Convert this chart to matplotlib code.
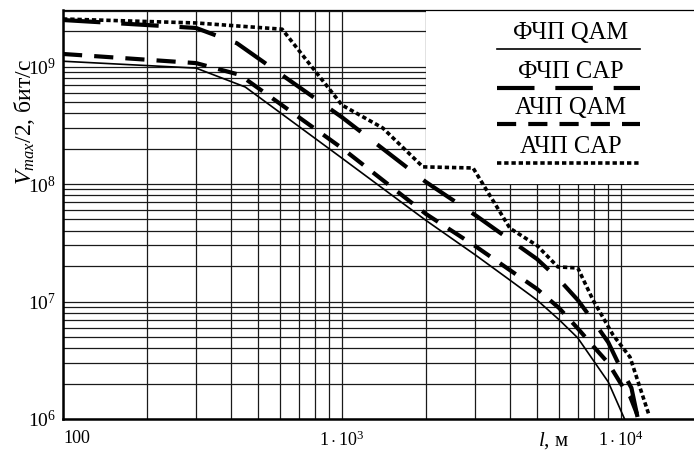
import matplotlib
matplotlib.use("Agg")
import matplotlib.pyplot as plt
from matplotlib.patches import Rectangle
from matplotlib.ticker import LogLocator, NullFormatter

# l, м  /  V_max/2, бит/с
fchp_qam_x = [100, 300, 450, 1000, 2000, 3000, 4000, 5000, 6000, 7000, 8000, 9000, 10300]
fchp_qam_y = [1.11e9, 9.7e8, 6.7e8, 1.66e8, 4.9e7, 2.5e7, 1.52e7, 1.03e7, 7.0e6, 4.9e6, 3.1e6, 2.07e6, 1.0e6]

fchp_cap_x = [100, 300, 420, 1000, 2000, 3000, 5000, 6000, 7000, 8000, 9000, 10000, 10900, 11500]
fchp_cap_y = [2.49e9, 2.13e9, 1.58e9, 3.7e8, 1.04e8, 5.45e7, 2.3e7, 1.54e7, 1.03e7, 6.7e6, 4.5e6, 2.67e6, 1.84e6, 1.0e6]

achp_qam_x = [100, 300, 430, 1000, 2000, 3000, 5000, 6000, 7000, 8000, 9000, 10000, 10800, 11600]
achp_qam_y = [1.28e9, 1.07e9, 8.5e8, 2.02e8, 5.56e7, 2.97e7, 1.28e7, 8.8e6, 5.9e6, 4.1e6, 3.0e6, 1.99e6, 1.54e6, 1.0e6]

achp_cap_x = [100, 300, 610, 1000, 1400, 1950, 2950, 4000, 5000, 5940, 7000, 7940, 9360, 10770, 12000, 12600]
achp_cap_y = [2.54e9, 2.35e9, 2.08e9, 4.7e8, 3.0e8, 1.40e8, 1.37e8, 4.2e7, 3.0e7, 1.97e7, 1.93e7, 1.03e7, 5.2e6, 3.37e6, 1.54e6, 1.08e6]

series_labels = ["ФЧП QAM", "ФЧП CAP", "АЧП QAM", "АЧП CAP"]
x_ticks = [100, 1000, 10000]
x_tick_labels = ["100", r"$1\cdot10^{3}$", r"$1\cdot10^{4}$"]
y_ticks = [1e6, 1e7, 1e8, 1e9]
y_tick_labels = [r"$10^{6}$", r"$10^{7}$", r"$10^{8}$", r"$10^{9}$"]

plt.rcParams["font.family"] = ["Liberation Serif", "DejaVu Serif"]
plt.rcParams["mathtext.fontset"] = "custom"
plt.rcParams["mathtext.rm"] = "Liberation Serif"
plt.rcParams["mathtext.it"] = "Liberation Serif:italic"

styles = [
    dict(color="black", linewidth=1.2, linestyle="-"),
    dict(color="black", linewidth=3.0, linestyle=(0, (9.0, 5.0))),
    dict(color="black", linewidth=3.0, linestyle=(0, (4.6, 2.9))),
    dict(color="black", linewidth=2.6, linestyle=(0, (1.2, 0.8))),
]

fig = plt.figure(figsize=(6.94, 4.5), dpi=100)
ax = fig.add_axes([63 / 694, 31 / 450, 631 / 694, 409 / 450])
ax.set_xscale("log")
ax.set_yscale("log")
ax.set_xlim(100, 18270)
ax.set_ylim(1e6, 3.03e9)

ax.set_axisbelow(True)
ax.xaxis.set_minor_locator(LogLocator(base=10, subs=range(2, 10), numticks=20))
ax.yaxis.set_minor_locator(LogLocator(base=10, subs=range(2, 10), numticks=20))
ax.xaxis.set_minor_formatter(NullFormatter())
ax.yaxis.set_minor_formatter(NullFormatter())
ax.grid(True, which="both", color="#1a1a1a", linewidth=0.9)
ax.tick_params(which="both", length=0)

ax.set_xticks(x_ticks)
ax.set_xticklabels(x_tick_labels, fontsize=13)
ax.set_yticks(y_ticks)
ax.set_yticklabels(y_tick_labels, fontsize=14)
ax.tick_params(axis="x", pad=8)
ax.tick_params(axis="y", pad=5)
ax.get_xticklabels()[0].set_horizontalalignment("left")

for side in ["left", "bottom"]:
    ax.spines[side].set_linewidth(1.8)
ax.spines["top"].set_linewidth(0.9)
ax.spines["right"].set_visible(False)

# белая подложка под легендой
ax.add_patch(Rectangle((2000, 1e8), 1e5, 1e11, facecolor="white",
                       edgecolor="none", zorder=1))

data = [(fchp_qam_x, fchp_qam_y), (fchp_cap_x, fchp_cap_y),
        (achp_qam_x, achp_qam_y), (achp_cap_x, achp_cap_y)]
for (xs, ys), st in zip(data, styles):
    ax.plot(xs, ys, zorder=2, dash_capstyle="butt", **st)

# легенда: подпись над образцом линии
text_y = [0.944, 0.848, 0.760, 0.665]
line_y = [0.905, 0.809, 0.721, 0.626]
for lab, ty, ly, st in zip(series_labels, text_y, line_y, styles):
    ax.text(0.805, ty, lab, transform=ax.transAxes, ha="center", va="center",
            fontsize=17.7, zorder=3)
    ax.plot([0.688, 0.915], [ly, ly], transform=ax.transAxes, zorder=3,
            dash_capstyle="butt", clip_on=False, **st)

ax.set_ylabel(r"$V_{max}$/2, бит/с", fontsize=17)
ax.yaxis.set_label_coords(-0.041, 0.726)
ax.set_xlabel(r"$l$, м", fontsize=15)
ax.xaxis.set_label_coords(0.777, -0.028)
ax.xaxis.label.set_verticalalignment("top")

fig.savefig("out.png", dpi=100)
